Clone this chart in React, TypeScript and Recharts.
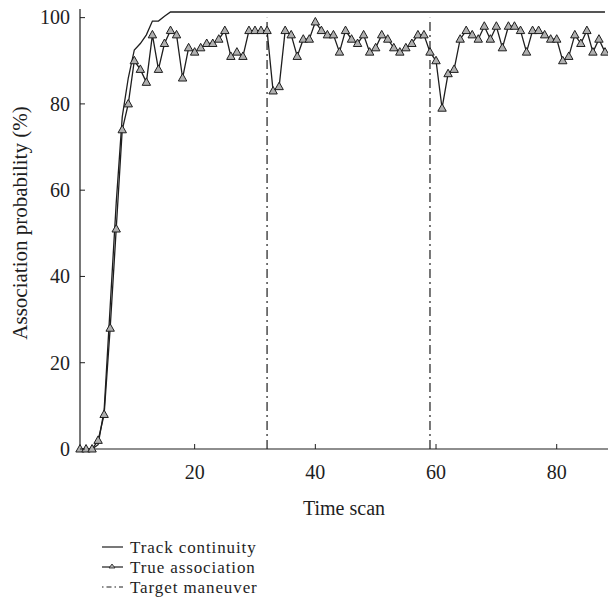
import { LineChart, Line, XAxis, YAxis, ReferenceLine } from "recharts";

// time scans 1..88
const scans = [
  1, 2, 3, 4, 5, 6, 7, 8, 9, 10, 11, 12, 13, 14, 15, 16, 17, 18, 19, 20, 21, 22,
  23, 24, 25, 26, 27, 28, 29, 30, 31, 32, 33, 34, 35, 36, 37, 38, 39, 40, 41, 42,
  43, 44, 45, 46, 47, 48, 49, 50, 51, 52, 53, 54, 55, 56, 57, 58, 59, 60, 61, 62,
  63, 64, 65, 66, 67, 68, 69, 70, 71, 72, 73, 74, 75, 76, 77, 78, 79, 80, 81, 82,
  83, 84, 85, 86, 87, 88,
];

const trackContinuity = [
  0, 0, 0, 1, 9, 33, 57, 77, 86, 92.5, 94, 96, 99.2, 99.2, 100.3, 101.3, 101.3,
  101.3, 101.3, 101.3, 101.3, 101.3, 101.3, 101.3, 101.3, 101.3, 101.3, 101.3,
  101.3, 101.3, 101.3, 101.3, 101.3, 101.3, 101.3, 101.3, 101.3, 101.3, 101.3,
  101.3, 101.3, 101.3, 101.3, 101.3, 101.3, 101.3, 101.3, 101.3, 101.3, 101.3,
  101.3, 101.3, 101.3, 101.3, 101.3, 101.3, 101.3, 101.3, 101.3, 101.3, 101.3,
  101.3, 101.3, 101.3, 101.3, 101.3, 101.3, 101.3, 101.3, 101.3, 101.3, 101.3,
  101.3, 101.3, 101.3, 101.3, 101.3, 101.3, 101.3, 101.3, 101.3, 101.3, 101.3,
  101.3, 101.3, 101.3, 101.3, 101.3,
];

const trueAssociation = [
  0, 0, 0, 2, 8, 28, 51, 74, 80, 90, 88, 85, 96, 88, 94, 97, 96, 86, 93, 92, 93,
  94, 94, 95, 97, 91, 92, 91, 97, 97, 97, 97, 83, 84, 97, 96, 91, 95, 95, 99, 97,
  96, 96, 92, 97, 95, 94, 96, 92, 93, 96, 95, 93, 92, 93, 94, 96, 96, 92, 90, 79,
  87, 88, 95, 97, 96, 95, 98, 95, 98, 93, 98, 98, 97, 92, 97, 97, 96, 95, 95, 90,
  91, 96, 94, 97, 92, 95, 92,
];

const maneuvers = [32, 59];
const xTicks = [20, 40, 60, 80];
const yTicks = [0, 20, 40, 60, 80, 100];

const legendItems = ["Track continuity", "True association", "Target maneuver"];

const data = scans.map((t, i) => ({
  t,
  track: trackContinuity[i],
  truth: trueAssociation[i],
}));

const FONT = "'Liberation Serif', 'Times New Roman', serif";
const INK = "#1e1e1e";
const X_MARGIN = 18;
const Y_MARGIN = 10;

function XTick(props: any) {
  const { x, y, payload } = props;
  const ay = y - X_MARGIN;
  return (
    <g>
      <line x1={x} x2={x} y1={ay} y2={ay - 5} stroke={INK} strokeWidth={1} />
      <text x={x} y={y} dy="0.6em" textAnchor="middle" fontSize={20} fontFamily={FONT} fill={INK}>
        {payload.value}
      </text>
    </g>
  );
}

function YTick(props: any) {
  const { x, y, payload } = props;
  const ax = x + Y_MARGIN;
  return (
    <g>
      <line x1={ax} x2={ax + 5} y1={y} y2={y} stroke={INK} strokeWidth={1} />
      <text x={x} y={y} dy="0.34em" textAnchor="end" fontSize={20} fontFamily={FONT} fill={INK}>
        {payload.value}
      </text>
    </g>
  );
}

function Triangle(props: any) {
  const { cx, cy, index } = props;
  if (cx == null || cy == null) return <g key={index} />;
  return (
    <polygon
      key={index}
      points={`${cx},${cy - 4.5} ${cx - 4.2},${cy + 3} ${cx + 4.2},${cy + 3}`}
      fill="#b0b0b0"
      stroke={INK}
      strokeWidth={1}
    />
  );
}

function YLabel(props: any) {
  const { viewBox } = props;
  const cy = viewBox.y + viewBox.height / 2 - 6;
  return (
    <text
      x={20}
      y={cy}
      transform={`rotate(-90, 20, ${cy})`}
      textAnchor="middle"
      dominantBaseline="central"
      fontSize={21}
      fontFamily={FONT}
      fill={INK}
    >
      Association probability (%)
    </text>
  );
}

function LegendBox() {
  const rows = [547, 567, 587];
  return (
    <svg width={320} height={615} style={{ position: "absolute", left: 0, top: 0 }}>
      {legendItems.map((name, i) => (
        <g key={name}>
          <line
            x1={102}
            x2={123}
            y1={rows[i]}
            y2={rows[i]}
            stroke={INK}
            strokeWidth={1.2}
            strokeDasharray={i === 2 ? "1.5 3 5 3" : undefined}
          />
          {i === 1 && (
            <polygon
              points={`112,${rows[i] - 3} 109,${rows[i] + 1} 115,${rows[i] + 1}`}
              fill="#b0b0b0"
              stroke={INK}
              strokeWidth={0.8}
            />
          )}
          <text
            x={130}
            y={rows[i]}
            dy="0.33em"
            fontSize={17}
            letterSpacing={0.9}
            fontFamily={FONT}
            fill={INK}
          >
            {name}
          </text>
        </g>
      ))}
    </svg>
  );
}

export default function App() {
  return (
    <div style={{ position: "absolute", left: 0, top: 0, width: 608, height: 615, background: "#fff" }}>
      <LineChart
        width={608}
        height={519}
        data={data}
        margin={{ top: 9, right: 0, bottom: 0, left: 0 }}
      >
        <XAxis
          dataKey="t"
          type="number"
          domain={[1, 88.5]}
          ticks={xTicks}
          height={70}
          tickSize={0}
          tickMargin={X_MARGIN}
          tick={<XTick />}
          axisLine={{ stroke: INK, strokeWidth: 1.2 }}
          tickLine={false}
          label={{ value: "Time scan", position: "insideBottom", offset: 4, fontSize: 20, fontFamily: FONT, fill: INK }}
        />
        <YAxis
          type="number"
          domain={[0, 102]}
          ticks={yTicks}
          width={80}
          tickSize={0}
          tickMargin={Y_MARGIN}
          tick={<YTick />}
          axisLine={{ stroke: INK, strokeWidth: 1.2 }}
          tickLine={false}
          label={<YLabel />}
        />
        {maneuvers.map((m) => (
          <ReferenceLine
            key={m}
            segment={[
              { x: m, y: 0 },
              { x: m, y: 100 },
            ]}
            stroke={INK}
            strokeWidth={1.2}
            strokeDasharray="9 4 2 4"
          />
        ))}
        <Line
          type="linear"
          dataKey="track"
          stroke={INK}
          strokeWidth={1.3}
          dot={false}
          isAnimationActive={false}
        />
        <Line
          type="linear"
          dataKey="truth"
          stroke={INK}
          strokeWidth={1.3}
          dot={<Triangle />}
          isAnimationActive={false}
        />
      </LineChart>
      <LegendBox />
    </div>
  );
}
